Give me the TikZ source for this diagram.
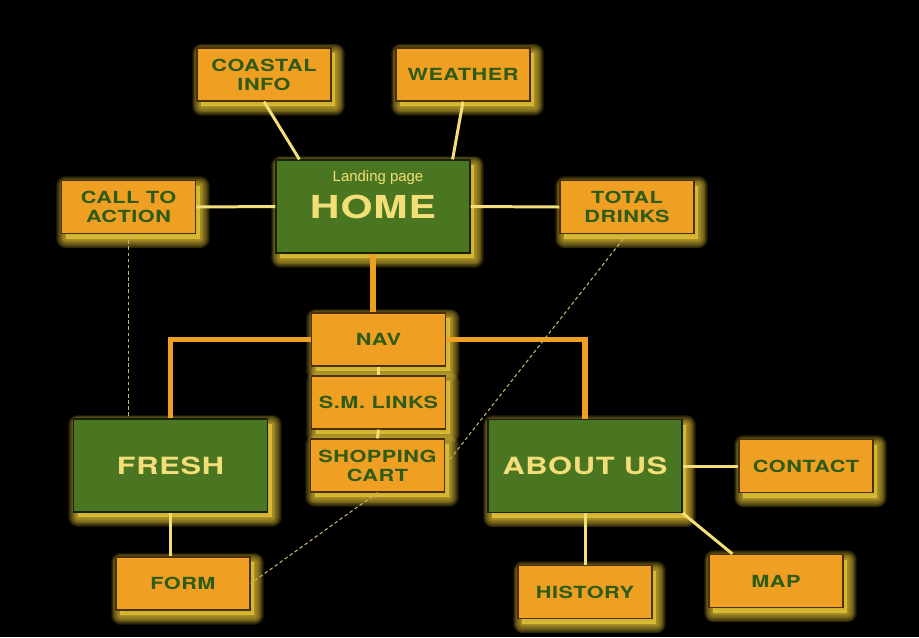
\documentclass[tikz,border=0pt]{standalone}
\usepackage{fontspec}
\setmainfont{Liberation Sans}
\newfontfamily\boxfont[FakeStretch=1.3,LetterSpace=3]{TeX Gyre Heros}
\usetikzlibrary{positioning,calc}
\definecolor{boxorange}{HTML}{EF9F22}
\definecolor{boxgreen}{HTML}{4A7622}
\definecolor{textgreen}{HTML}{2E5B16}
\definecolor{paleyellow}{HTML}{F4DE78}
\definecolor{glowc}{HTML}{F6D43C}
\definecolor{edgebrown}{HTML}{4A3206}
\definecolor{hintc}{HTML}{C8B66A}

\tikzset{
  glowstep/.style={preaction={draw=glowc, fill=glowc, opacity=.1, line width=#1, line join=round,
      transform canvas={shift={(2.5pt,-3pt)}}}},
  glow/.style={glowstep=11pt, glowstep=10pt, glowstep=9pt, glowstep=8pt, glowstep=7pt,
    glowstep=6pt, glowstep=5pt, glowstep=4pt, glowstep=3pt, glowstep=2pt, glowstep=1pt},
  pagebox/.style={glow, draw=edgebrown, line width=0.7pt, fill=boxorange, inner sep=0pt,
    minimum width=2.68cm, minimum height=1.06cm, align=center, text=textgreen,
    font=\boxfont\bfseries\fontsize{9.5}{10.8}\selectfont},
  sectionbox/.style={glow, draw=black!70!boxgreen, line width=0.7pt, fill=boxgreen, inner sep=0pt,
    minimum width=3.88cm, minimum height=1.86cm, text=paleyellow,
    font=\boxfont\bfseries\fontsize{13.5}{15}\selectfont},
  link/.style={draw=paleyellow, line width=1.7pt},
  navlink/.style={draw=boxorange, line width=3.2pt},
  hint/.style={draw=hintc, line width=0.6pt, dash pattern=on 2pt off 1.5pt}
}

\begin{document}
\begin{tikzpicture}[x=0.02cm,y=-0.02cm]
  \fill[black] (0,0) rectangle (919,637);
  \useasboundingbox (0,0) rectangle (919,637);

  % --- TOP ROW ---
  \node[pagebox] (coastal) at (264,74.5) {COASTAL\\INFO};
  \node[pagebox] (weather) at (463,74.5) {WEATHER};

  % --- HOME ROW ---
  \node[sectionbox, font=\boxfont\bfseries\fontsize{18}{20}\selectfont] (home) at (373,206.5) {HOME};
  \node[font=\fontsize{8.5}{10}\selectfont, text=paleyellow] (homecaption) at (378,178) {Landing page};
  \node[pagebox] (action) at (128.5,207) {CALL TO\\ACTION};
  \node[pagebox] (drinks) at (627,207) {TOTAL\\DRINKS};

  % --- NAV COLUMN ---
  \node[pagebox] (nav) at (378.5,339.5) {NAV};
  \node[pagebox] (links) at (378.5,402.5) {S.M. LINKS};
  \node[pagebox] (cart) at (377.5,465.5) {SHOPPING\\CART};

  % --- SECTIONS ---
  \node[sectionbox] (fresh) at (170.5,465.5) {FRESH};
  \node[sectionbox] (about) at (585,466) {ABOUT US};
  \node[pagebox] (contact) at (806,466) {CONTACT};
  \node[pagebox] (form) at (183,583.5) {FORM};
  \node[pagebox] (history) at (585,592) {HISTORY};
  \node[pagebox] (map) at (776,581) {MAP};

  % --- CONNECTORS ---
  \draw[link] (coastal.south) -- ($(home.north west)+(24,0)$);
  \draw[link] (weather.south) -- ($(home.north east)+(-18,0)$);
  \draw[link] (action.east) -- (home.west);
  \draw[link] (home.east) -- (drinks.west);
  \draw[navlink] (home.south) -- (home.south |- nav.north);
  \draw[navlink] (nav.west) -| (fresh.north);
  \draw[navlink] (nav.east) -| (about.north);
  \draw[link] (nav.south) -- (links.north);
  \draw[link] (links.south) -- (cart.north);
  \draw[link] (fresh.south) -- (fresh.south |- form.north);
  \draw[link] (about.east) -- (contact.west);
  \draw[link] (about.south) -- (history.north);
  \draw[link] (about.south east) -- ($(map.north west)+(24,0)$);

  % dashed hints
  \draw[hint] (action.south) -- (action.south |- fresh.north);
  \draw[hint] (drinks.south) -- (cart.east);
  \draw[hint] (cart.south) -- (form.east);
\end{tikzpicture}
\end{document}
